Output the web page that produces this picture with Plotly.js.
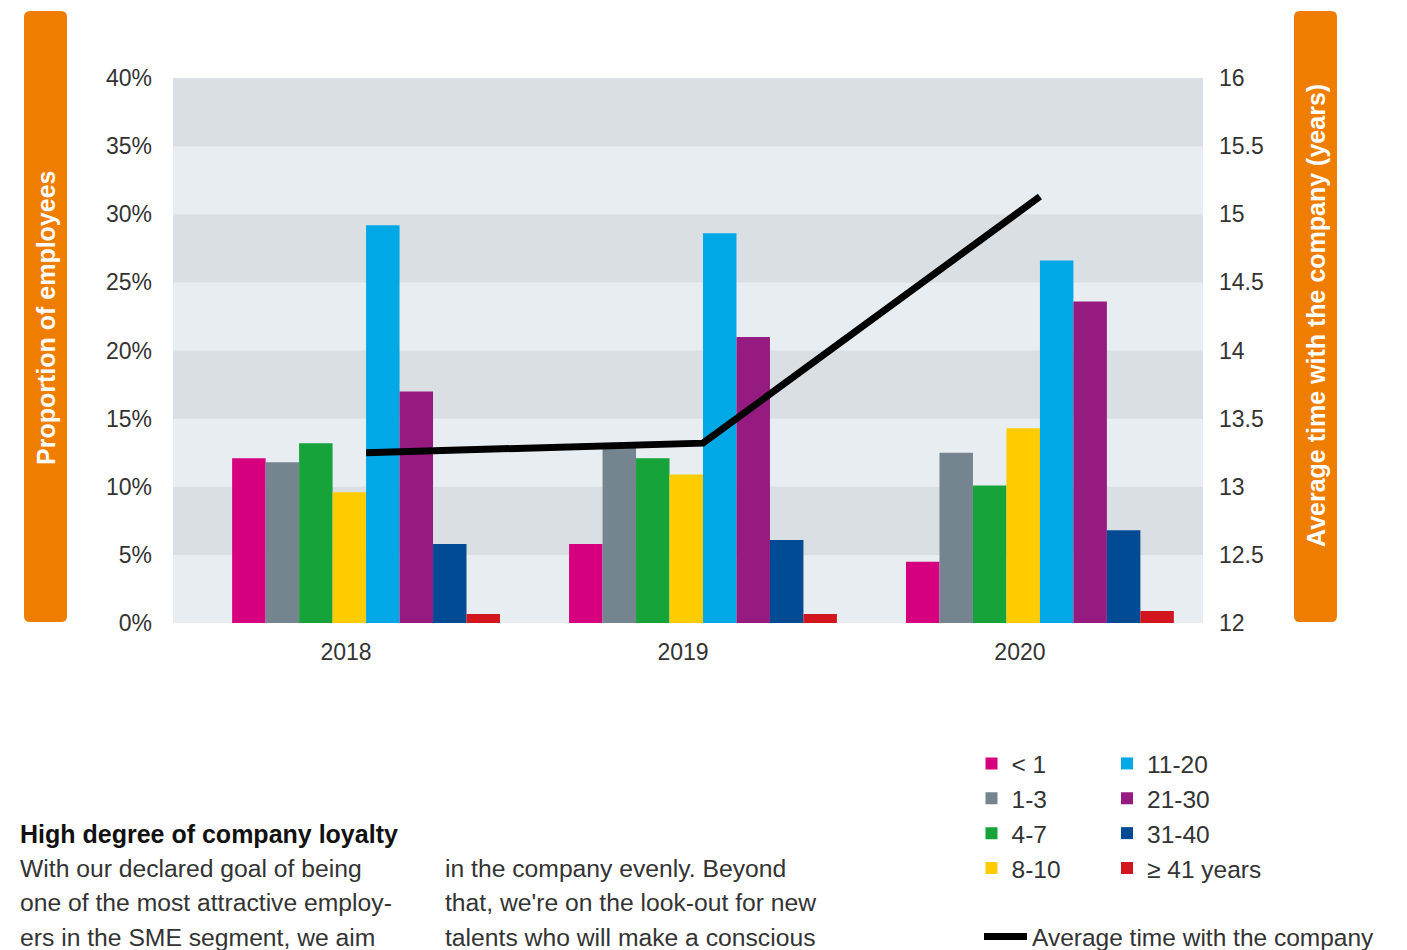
<!DOCTYPE html>
<html>
<head>
<meta charset="utf-8">
<script src="https://cdn.plot.ly/plotly-3.0.1.min.js"></script>
<style>html,body{margin:0;padding:0;background:#fff;}#chart{width:1407px;height:950px;}</style>
</head>
<body>
<div id="chart"></div>
<script>
// ---- data ----
const years = ['2018', '2019', '2020'];
const groups = ['< 1', '1-3', '4-7', '8-10', '11-20', '21-30', '31-40', '≥ 41 years'];
const share_lt1   = [0.121, 0.058, 0.045];
const share_1_3   = [0.118, 0.129, 0.125];
const share_4_7   = [0.132, 0.121, 0.101];
const share_8_10  = [0.096, 0.109, 0.143];
const share_11_20 = [0.292, 0.286, 0.266];
const share_21_30 = [0.170, 0.210, 0.236];
const share_31_40 = [0.058, 0.061, 0.068];
const share_ge41  = [0.0066, 0.0066, 0.0088];
const avgYears    = [13.25, 13.32, 15.13];
const lineName = 'Average time with the company';
const leftTicks = [0, 0.05, 0.10, 0.15, 0.20, 0.25, 0.30, 0.35, 0.40];
const rightTicks = [12, 12.5, 13, 13.5, 14, 14.5, 15, 15.5, 16];
const leftTitle = 'Proportion of employees';
const rightTitle = 'Average time with the company (years)';
const textHeading = 'High degree of company loyalty';
const textCol1 = ['With our declared goal of being', 'one of the most attractive employ-', 'ers in the SME segment, we aim'];
const textCol2 = ['in the company evenly. Beyond', "that, we're on the look-out for new", 'talents who will make a conscious'];

// ---- styles ----
const seriesValues = [share_lt1, share_1_3, share_4_7, share_8_10, share_11_20, share_21_30, share_31_40, share_ge41];
const colors = ['#d6007f', '#74858f', '#15a33a', '#ffcc00', '#00a8e6', '#951b81', '#004b93', '#d2161d'];
const FONT = 'Liberation Sans, Arial, sans-serif';
const TXT = '#333333';
const ORANGE = '#ef7d00';
const W = 1407, H = 950;
const L = 173, R = 1203, T = 78, B = 623;
const px2x = p => (p - L) / (R - L);
const px2y = p => (B - p) / (B - T);

const traces = groups.map((g, i) => ({
  type: 'bar', name: g, x: years, y: seriesValues[i],
  marker: {color: colors[i], line: {width: 0}},
  legend: i < 4 ? 'legend' : 'legend2',
  hoverinfo: 'x+y+name'
}));
traces.push({
  type: 'scatter', mode: 'lines', name: lineName, x: years, y: avgYears, yaxis: 'y2',
  line: {color: '#000000', width: 7},
  legend: 'legend3'
});

// background bands (alternating between tick gridlines)
const shapes = [];
for (let i = 0; i < leftTicks.length - 1; i++) {
  if (i % 2 === 1) {
    shapes.push({type: 'rect', layer: 'below', xref: 'paper', yref: 'y',
      x0: 0, x1: 1, y0: leftTicks[i], y1: leftTicks[i + 1],
      fillcolor: '#dadfe3', line: {width: 0}});
  }
}
function roundRect(x0p, x1p, y0p, y1p, r) {
  const X0 = px2x(x0p), X1 = px2x(x1p), Y0 = px2y(y1p), Y1 = px2y(y0p);
  const rx = r / (R - L), ry = r / (B - T);
  return `M${X0 + rx},${Y1} L${X1 - rx},${Y1} Q${X1},${Y1} ${X1},${Y1 - ry} L${X1},${Y0 + ry} Q${X1},${Y0} ${X1 - rx},${Y0} L${X0 + rx},${Y0} Q${X0},${Y0} ${X0},${Y0 + ry} L${X0},${Y1 - ry} Q${X0},${Y1} ${X0 + rx},${Y1} Z`;
}
shapes.push({type: 'path', xref: 'paper', yref: 'paper', path: roundRect(24, 67, 11, 622, 6), fillcolor: ORANGE, line: {width: 0}});
shapes.push({type: 'path', xref: 'paper', yref: 'paper', path: roundRect(1294, 1337, 11, 622, 6), fillcolor: ORANGE, line: {width: 0}});

const annotations = [
  {xref: 'paper', yref: 'paper', x: px2x(46), y: px2y(318), text: '<b>' + leftTitle + '</b>', textangle: -90,
   showarrow: false, font: {family: FONT, size: 25, color: '#ffffff'}, xanchor: 'center', yanchor: 'middle'},
  {xref: 'paper', yref: 'paper', x: px2x(1316), y: px2y(316), text: '<b>' + rightTitle + '</b>', textangle: -90,
   showarrow: false, font: {family: FONT, size: 25, color: '#ffffff'}, xanchor: 'center', yanchor: 'middle'},
  {xref: 'paper', yref: 'paper', x: px2x(18), y: px2y(834), text: '<b>' + textHeading + '</b>',
   showarrow: false, font: {family: FONT, size: 25, color: '#111111'}, xanchor: 'left', yanchor: 'middle'}
];
textCol1.forEach((t, i) => annotations.push({xref: 'paper', yref: 'paper', x: px2x(18), y: px2y(868 + i * 34.5), text: t,
  showarrow: false, font: {family: FONT, size: 24.7, color: TXT}, xanchor: 'left', yanchor: 'middle'}));
textCol2.forEach((t, i) => annotations.push({xref: 'paper', yref: 'paper', x: px2x(443), y: px2y(868 + i * 34.5), text: t,
  showarrow: false, font: {family: FONT, size: 24.7, color: TXT}, xanchor: 'left', yanchor: 'middle'}));

const legendBase = {orientation: 'v', xref: 'container', yref: 'container', xanchor: 'left', yanchor: 'top',
  bgcolor: 'rgba(0,0,0,0)', borderwidth: 0, font: {family: FONT, size: 24.5, color: TXT}, tracegroupgap: 0};

const layout = {
  width: W, height: H,
  margin: {l: L, r: W - R, t: T, b: H - B, pad: 0, autoexpand: false},
  paper_bgcolor: '#ffffff', plot_bgcolor: '#e8edf1',
  font: {family: FONT, size: 23, color: TXT},
  barmode: 'group', bargap: 0.205, bargroupgap: 0,
  xaxis: {type: 'category', range: [-0.573, 2.484], showgrid: false, zeroline: false, showline: false,
    ticks: '', ticklabelstandoff: 13, ticklabelshift: -20, tickfont: {family: FONT, size: 23, color: TXT}, fixedrange: true},
  yaxis: {range: [0, 0.40], tickvals: leftTicks, tickformat: '.0%', showgrid: false, zeroline: false, showline: false,
    ticks: '', ticklabelstandoff: 20, tickfont: {family: FONT, size: 23, color: TXT}, fixedrange: true},
  yaxis2: {overlaying: 'y', side: 'right', range: [12, 16], tickvals: rightTicks, showgrid: false, zeroline: false,
    showline: false, ticks: '', ticklabelstandoff: 15, tickfont: {family: FONT, size: 23, color: TXT}, fixedrange: true},
  showlegend: true,
  legend: Object.assign({}, legendBase, {x: 971.5 / W, y: 1 - 741 / H}),
  legend2: Object.assign({}, legendBase, {x: 1107 / W, y: 1 - 741 / H}),
  legend3: Object.assign({}, legendBase, {x: 979 / W, y: 1 - 914 / H, itemwidth: 43}),
  shapes: shapes,
  annotations: annotations
};

Plotly.newPlot('chart', traces, layout, {displayModeBar: false, responsive: false});
</script>
</body>
</html>
